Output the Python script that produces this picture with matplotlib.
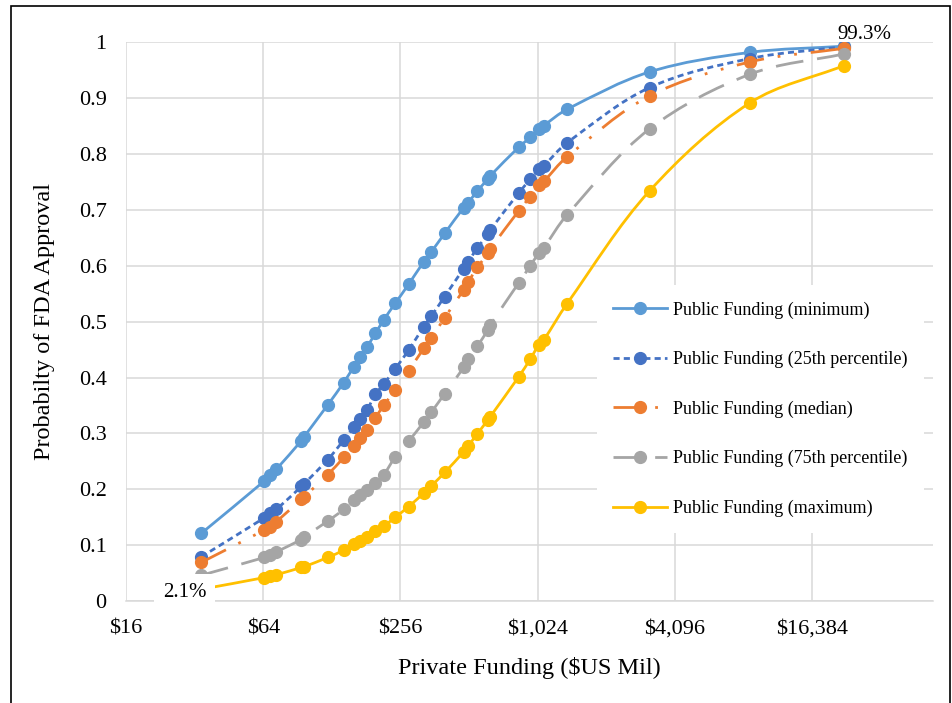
import numpy as np
import matplotlib
matplotlib.use("Agg")
import matplotlib.pyplot as plt
from matplotlib.path import Path
from matplotlib.patches import PathPatch, Rectangle
from matplotlib.lines import Line2D
from matplotlib.ticker import FixedLocator, FixedFormatter, NullLocator

plt.rcParams['font.family'] = ['Liberation Serif', 'DejaVu Serif']

# private funding ($US Mil), same points for every series
private = [34.2, 64.8, 68.8, 73.1, 94.1, 96.3, 122.8, 144.3, 159.6, 170.8, 182.7,
           198.7, 216, 243, 278, 323.6, 349.7, 400, 484.6, 508, 556, 618.7, 634,
           844, 950, 1033, 1087, 1376, 3169, 8758, 22474]

p_min = [0.121, 0.215, 0.226, 0.236, 0.287, 0.293, 0.351, 0.391, 0.419, 0.437, 0.455,
         0.479, 0.503, 0.533, 0.567, 0.607, 0.625, 0.658, 0.704, 0.713, 0.734, 0.755,
         0.761, 0.812, 0.830, 0.845, 0.851, 0.880, 0.947, 0.982, 0.993]
p_25 = [0.079, 0.149, 0.157, 0.164, 0.205, 0.209, 0.253, 0.288, 0.311, 0.325, 0.342,
        0.370, 0.388, 0.416, 0.449, 0.491, 0.510, 0.545, 0.595, 0.607, 0.632, 0.656,
        0.664, 0.730, 0.755, 0.773, 0.779, 0.820, 0.919, 0.971, 0.992]
p_med = [0.069, 0.127, 0.133, 0.142, 0.182, 0.186, 0.226, 0.257, 0.277, 0.291, 0.306,
         0.328, 0.350, 0.378, 0.412, 0.452, 0.471, 0.507, 0.557, 0.571, 0.597, 0.622,
         0.630, 0.698, 0.724, 0.745, 0.751, 0.795, 0.904, 0.965, 0.989]
p_75 = [0.046, 0.078, 0.082, 0.088, 0.110, 0.114, 0.143, 0.164, 0.181, 0.190, 0.199,
        0.212, 0.226, 0.258, 0.286, 0.320, 0.338, 0.371, 0.418, 0.433, 0.456, 0.485,
        0.494, 0.569, 0.600, 0.622, 0.632, 0.691, 0.845, 0.943, 0.979]
p_max = [0.021, 0.042, 0.045, 0.047, 0.060, 0.061, 0.078, 0.091, 0.102, 0.108, 0.114,
         0.125, 0.134, 0.150, 0.169, 0.193, 0.206, 0.230, 0.267, 0.278, 0.299, 0.324,
         0.330, 0.401, 0.433, 0.458, 0.467, 0.532, 0.734, 0.892, 0.958]

labels = ["Public Funding (minimum)", "Public Funding (25th percentile)",
          "Public Funding (median)", "Public Funding (75th percentile)",
          "Public Funding (maximum)"]

xticks = [16, 64, 256, 1024, 4096, 16384]
xtick_labels = ["$16", "$64", "$256", "$1,024", "$4,096", "$16,384"]
yticks = [0, 0.1, 0.2, 0.3, 0.4, 0.5, 0.6, 0.7, 0.8, 0.9, 1]
ytick_labels = ["0", "0.1", "0.2", "0.3", "0.4", "0.5", "0.6", "0.7", "0.8", "0.9", "1"]

colors = ["#5B9BD5", "#4472C4", "#ED7D31", "#A5A5A5", "#FFC000"]
styles = ["-", (0, (2.2, 1.5)), (0, (10, 5, 1, 5, 1, 5)), (0, (10, 5)), "-"]


def smooth_path(xs, ys):
    # excel style smoothed line: bezier through the points, built in log4 space
    sx, sy = 137.3, 558.7
    P = np.column_stack([np.log(xs) / np.log(4) * sx, np.asarray(ys) * sy])
    n = len(P)
    tang = np.zeros_like(P)
    for i in range(n):
        a = P[max(i - 1, 0)]
        b = P[min(i + 1, n - 1)]
        d = b - a
        tang[i] = d / np.hypot(*d)
    verts = [P[0]]
    codes = [Path.MOVETO]
    for i in range(n - 1):
        L = np.hypot(*(P[i + 1] - P[i]))
        verts += [P[i] + tang[i] * L / 3, P[i + 1] - tang[i + 1] * L / 3, P[i + 1]]
        codes += [Path.CURVE4] * 3
    verts = np.array(verts)
    verts[:, 0] = 4 ** (verts[:, 0] / sx)
    verts[:, 1] = verts[:, 1] / sy
    return Path(verts, codes)


fig = plt.figure(figsize=(9.52, 7.03), dpi=100)
ax = fig.add_axes([126 / 952, 1 - 601 / 703, (933 - 126) / 952, (601 - 42.3) / 703])

ax.set_xscale('log', base=4)
ax.set_xlim(16, 55500)
ax.set_ylim(0, 1)

series = [p_min, p_25, p_med, p_75, p_max]
handles = []
for k, vals in enumerate(series):
    patch = PathPatch(smooth_path(private, vals), fill=False, edgecolor=colors[k],
                      lw=2.0, linestyle=styles[k], zorder=3 + k)
    ax.add_patch(patch)
    ax.plot(private, vals, 'o', color=colors[k], ms=8.5, zorder=3 + k)
    handles.append(Line2D([], [], color=colors[k], lw=2.0, linestyle=styles[k],
                          marker='o', ms=8.5))

ax.xaxis.set_major_locator(FixedLocator(xticks))
ax.xaxis.set_major_formatter(FixedFormatter(xtick_labels))
ax.xaxis.set_minor_locator(NullLocator())
ax.yaxis.set_major_locator(FixedLocator(yticks))
ax.yaxis.set_major_formatter(FixedFormatter(ytick_labels))
ax.tick_params(axis='both', length=0, labelsize=16)
ax.tick_params(axis='x', pad=13)
ax.tick_params(axis='y', pad=14)

ax.grid(True, color="#D9D9D9", lw=1.1)
ax.set_axisbelow(True)
for s in ['top', 'right', 'left']:
    ax.spines[s].set_visible(False)
ax.spines['bottom'].set_color("#D9D9D9")
ax.spines['bottom'].set_linewidth(1.1)

ax.set_xlabel("Private Funding ($US Mil)", fontsize=17.5)
ax.xaxis.set_label_coords(0.5, -0.1)
ax.set_ylabel("Probabilty of FDA Approval", fontsize=17.5)
ax.yaxis.set_label_coords(-0.088, 0.5)

# data labels
ax.annotate("2.1%", xy=(private[0], p_max[0]), xytext=(-12, -2), textcoords='offset points',
            ha='center', va='center', fontsize=15, zorder=20, annotation_clip=False,
            bbox=dict(boxstyle='square,pad=0.42', fc='white', ec='none'))
ax.annotate("99.3%", xy=(private[-1], p_min[-1]), xytext=(15, 8.5), textcoords='offset points',
            ha='center', va='center', fontsize=15, zorder=20, annotation_clip=False)

leg = ax.legend(handles, labels, loc='upper left', bbox_to_anchor=(597 / 952, 1 - 285 / 703),
                bbox_transform=fig.transFigure, fontsize=13, frameon=True, fancybox=False,
                framealpha=1, edgecolor='none', handlelength=3.0, handletextpad=0.3,
                labelspacing=1.79, borderpad=0.9, borderaxespad=0)
leg.set_zorder(15)

# outer chart border
fig.add_artist(Rectangle((11 / 952, -0.02), (950 - 11) / 952, 1.02 - 5.5 / 703,
                         transform=fig.transFigure, fill=False, ec='black', lw=1.2))

fig.savefig("out.png", dpi=100)
